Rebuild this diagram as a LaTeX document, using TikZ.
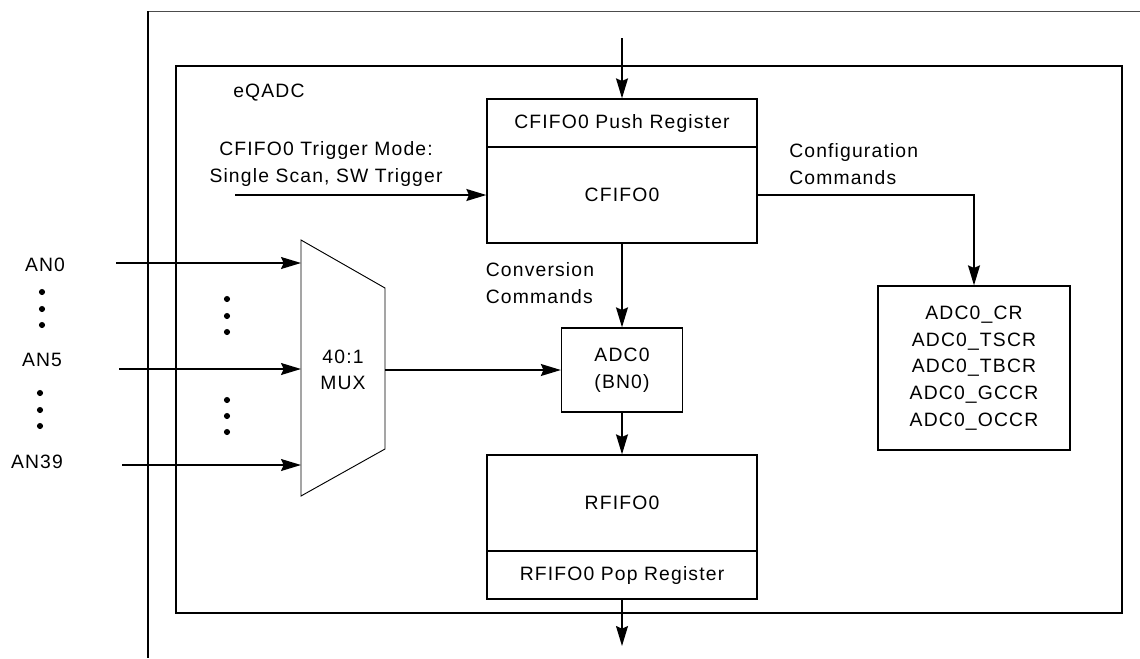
\documentclass[tikz,border=0pt]{standalone}
\usepackage{fontspec}
\setmainfont{Liberation Sans}[LetterSpace=6]
\usepackage{tikz}
\usetikzlibrary{arrows.meta, positioning}

\tikzset{
  txt/.style={font=\fontsize{14.5}{20}\selectfont, inner sep=0pt},
  blk/.style={draw, line width=1pt, txt, minimum width=202.5pt},
  arr/.style={-{Stealth[length=15pt, width=9pt, inset=2pt]}, line width=1pt},
  ln/.style={line width=1pt},
}

\begin{document}
\begin{tikzpicture}[x=0.75pt, y=-0.75pt]
  \useasboundingbox (0,0) rectangle (1140,658);

  % frames
  \draw[gray!60!black, line width=0.6pt] (148,11) -- (1140,11);
  \draw[ln] (148,11) -- (148,658);
  \draw[ln] (176,66) rectangle (1122,613);
  \node[txt, anchor=west] (eqadc) at (233,93) {eQADC};

  % command fifo
  \node[blk, minimum height=36pt] (push) at (622,123) {CFIFO0 Push Register};
  \node[blk, minimum height=72pt] (cfifo) at (622,195) {CFIFO0};
  \coordinate (cin) at (622,38);
  \draw[arr] (cin) -- (push.north);

  % trigger mode
  \node[txt, align=center] (trig) at (326,164) {CFIFO0 Trigger Mode:\\Single Scan, SW Trigger};
  \coordinate (tin) at (235,195);
  \draw[arr] (tin) -- (cfifo.west);

  % configuration registers
  \node[txt, anchor=west, align=left] (cfg) at (789,164) {Configuration\\Commands};
  \node[draw, ln, txt, align=center, minimum width=144pt, minimum height=123pt] (regs) at (974,368)
    {ADC0\_CR\\ADC0\_TSCR\\ADC0\_TBCR\\ADC0\_GCCR\\ADC0\_OCCR};
  \draw[arr] (cfifo.east) -| (regs.north);

  % converter
  \node[txt, align=left] (conv) at (540,283) {Conversion\\Commands};
  \node[draw, ln, txt, align=center, minimum width=90.75pt, minimum height=63pt] (adc) at (622,370) {ADC0\\(BN0)};
  \draw[arr] (cfifo.south) -- (adc.north);

  % result fifo
  \node[blk, minimum height=72pt] (rfifo) at (622,503) {RFIFO0};
  \node[blk, minimum height=36pt] (pop) at (622,575) {RFIFO0 Pop Register};
  \coordinate (rout) at (622,646);
  \draw[arr] (adc.south) -- (rfifo.north);
  \draw[arr] (pop.south) -- (rout);

  % mux
  \coordinate (m1) at (301,240);
  \coordinate (m2) at (385,288);
  \coordinate (m3) at (385,449);
  \coordinate (m4) at (301,496);
  \draw[line width=0.7pt] (m1) -- (m2) -- (m3) -- (m4) -- cycle;
  \node[txt, align=center] (mux) at (343,370) {40:1\\MUX};
  \coordinate (mout) at (385,370);
  \draw[arr] (mout) -- (adc.west);

  % analog inputs
  \node[txt] (an0) at (45,265) {AN0};
  \node[txt] (an5) at (42,360) {AN5};
  \node[txt] (an39) at (37,462) {AN39};
  \coordinate (i0) at (116,263);  \coordinate (e0) at (301,263);
  \coordinate (i5) at (119,369);  \coordinate (e5) at (301,369);
  \coordinate (i39) at (122,465); \coordinate (e39) at (301,465);
  \draw[arr] (i0) -- (e0);
  \draw[arr] (i5) -- (e5);
  \draw[arr] (i39) -- (e39);

  % dots
  \foreach \y in {292, 309, 325} \fill (42,\y) circle (2.3pt);
  \foreach \y in {393, 410, 426} \fill (40,\y) circle (2.3pt);
  \foreach \y in {299, 316, 332, 400, 416, 432} \fill (227,\y) circle (2.3pt);
\end{tikzpicture}
\end{document}
